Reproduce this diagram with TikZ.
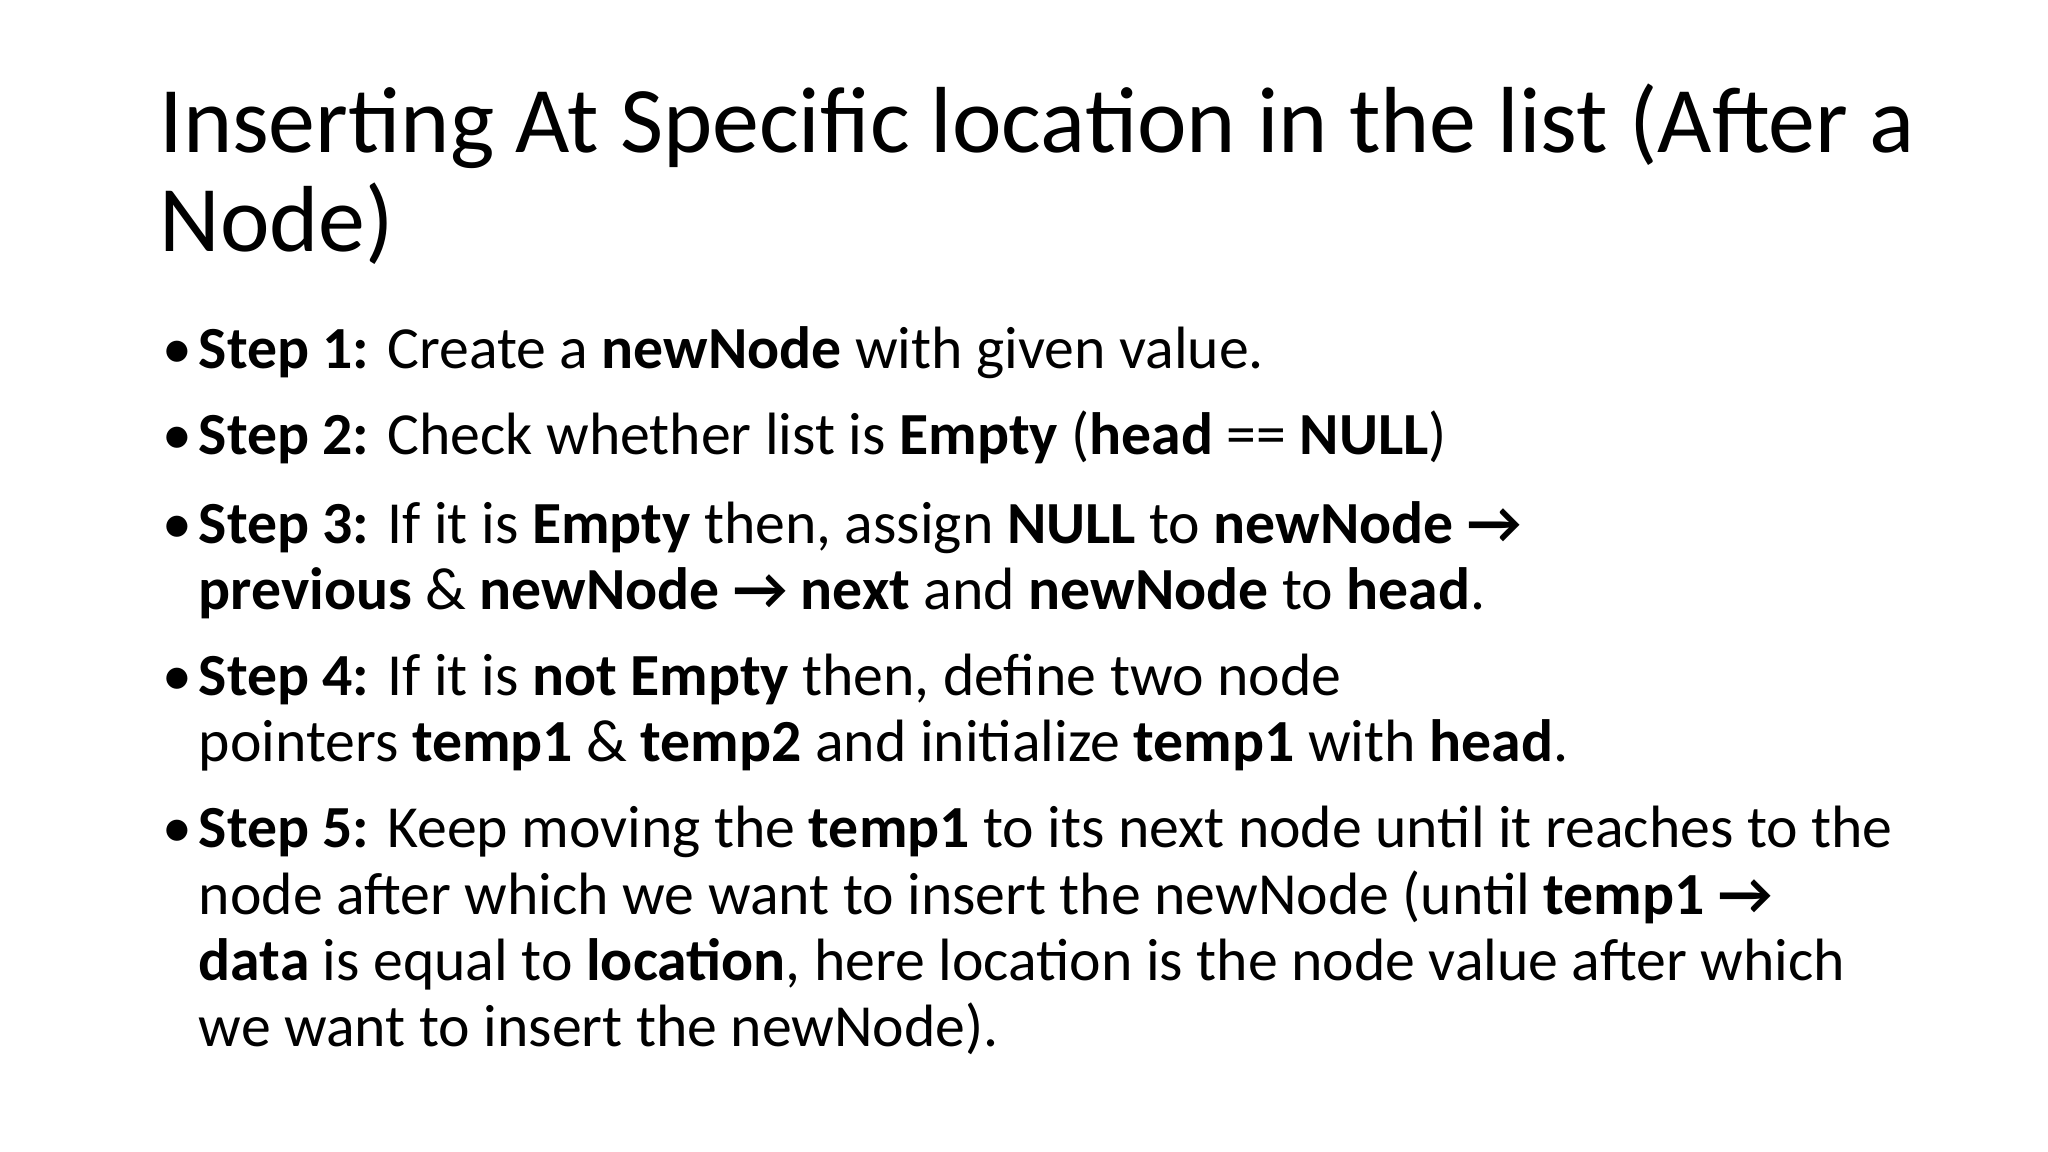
\documentclass[tikz,border=0pt]{standalone}
\usepackage{fontspec}
\setmainfont{Carlito}
\begin{document}
\begin{tikzpicture}[x=1pt,y=-1pt,
  ttl/.style={anchor=base west,inner sep=0pt,font=\fontsize{44}{47}\selectfont},
  bod/.style={anchor=base west,inner sep=0pt,font=\fontsize{28}{31}\selectfont},
  bul/.style={anchor=base west,inner sep=0pt,font=\fontsize{28}{31}\selectfont}]
\useasboundingbox[fill=white] (0,0) rectangle (960,540);
\node[ttl] (t1) at (74.5,71.4) {Inserting At Specific location in the list (After a};
\node[ttl] (t2) at (74.5,118) {Node)};
\foreach \y/\n in {172.6/b1,213/b2,254.6/b3,326/b4,397.4/b5}
  \node[bul] (\n) at (75.8,\y) {•};
\node[bod] (l1) at (93,172.6) {\textbf{Step 1:} Create a \textbf{newNode} with given value.};
\node[bod] (l2) at (93,213) {\textbf{Step 2:} Check whether list is \textbf{Empty} (\textbf{head} == \textbf{NULL})};
\node[bod] (l3) at (93,254.6) {\textbf{Step 3:} If it is \textbf{Empty} then, assign \textbf{NULL} to \textbf{newNode →}};
\node[bod] (l4) at (93,285.7) {\textbf{previous} \& \textbf{newNode → next} and \textbf{newNode} to \textbf{head}.};
\node[bod] (l5) at (93,326) {\textbf{Step 4:} If it is \textbf{not Empty} then, define two node};
\node[bod] (l6) at (93,357) {pointers \textbf{temp1} \& \textbf{temp2} and initialize \textbf{temp1} with \textbf{head}.};
\node[bod] (l7) at (93,397.4) {\textbf{Step 5:} Keep moving the \textbf{temp1} to its next node until it reaches to the};
\node[bod] (l8) at (93,428.5) {node after which we want to insert the newNode (until \textbf{temp1 →}};
\node[bod] (l9) at (93,459.5) {\textbf{data} is equal to \textbf{location}, here location is the node value after which};
\node[bod] (l10) at (93,490.6) {we want to insert the newNode).};
\end{tikzpicture}
\end{document}
